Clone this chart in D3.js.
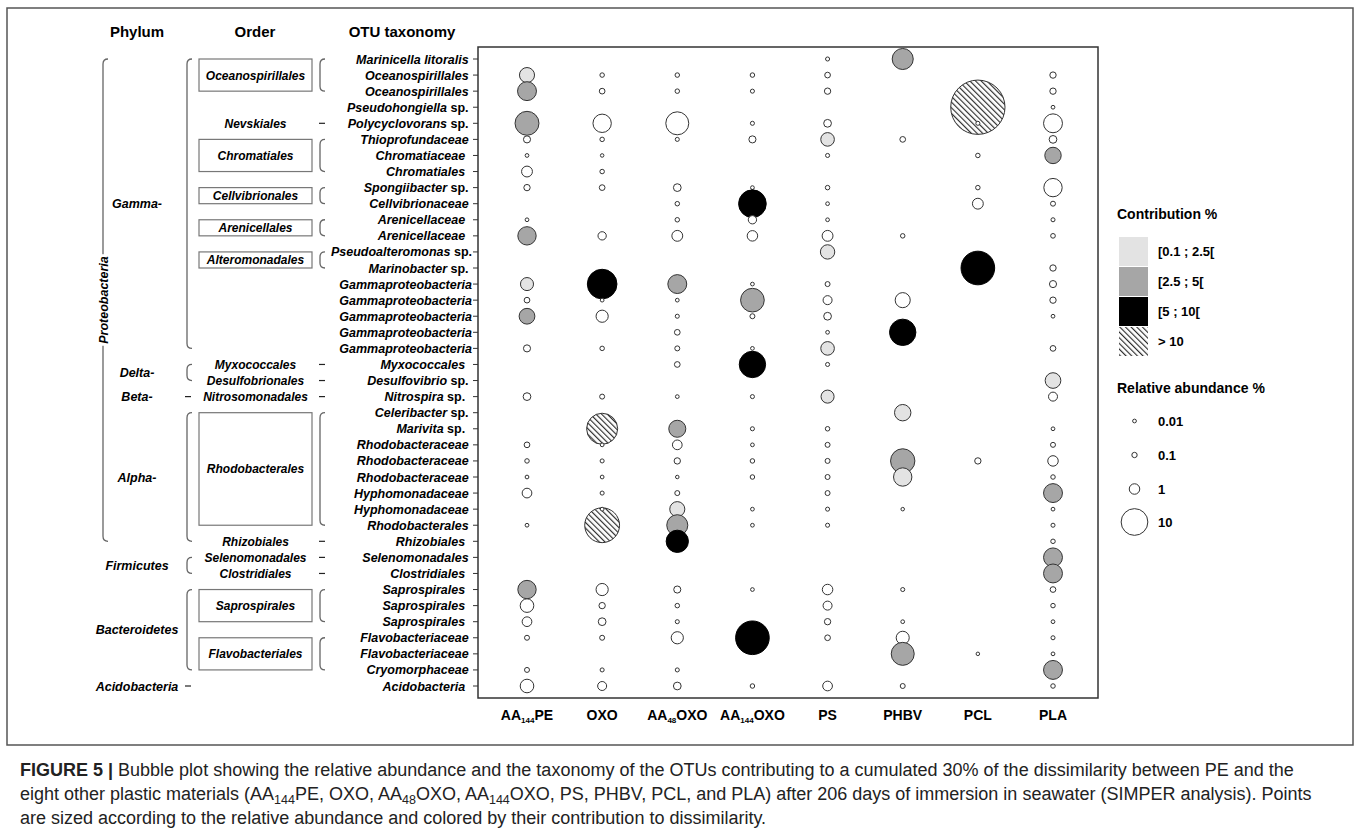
<!DOCTYPE html>
<html>
<head>
<meta charset="utf-8">
<script src="https://cdn.jsdelivr.net/npm/d3@7"></script>
<style>
body { margin: 0; background: #fff; }
svg text { font-family: "Liberation Sans", Arial, sans-serif; fill: #000; }
</style>
</head>
<body>
<div id="chart"></div>
<script>
//styles
var width = 1357, height = 835;
var plotLeft = 478, plotRight = 1098, plotTop = 47, plotBottom = 698;
var lineColor = "#666";
var fills = ["#ffffff", "#e3e3e3", "#a6a6a6", "#000000", "url(#hatch)"];

// data
var materials = ["AA144PE", "OXO", "AA48OXO", "AA144OXO", "PS", "PHBV", "PCL", "PLA"];

// trailing spaces kept as in the source table (they shift the labels a bit)
var otuLabels = ["Marinicella litoralis ", "Oceanospirillales ", "Oceanospirillales ", "Pseudohongiella sp. ",
  "Polycyclovorans sp. ", "Thioprofundaceae ", "Chromatiaceae  ", "Chromatiales  ", "Spongiibacter sp. ",
  "Cellvibrionaceae ", "Arenicellaceae  ", "Arenicellaceae  ", "Pseudoalteromonas sp.", "Marinobacter sp. ",
  "Gammaproteobacteria", "Gammaproteobacteria", "Gammaproteobacteria", "Gammaproteobacteria", "Gammaproteobacteria",
  "Myxococcales  ", "Desulfovibrio sp. ", "Nitrospira sp.  ", "Celeribacter sp. ", "Marivita sp.  ",
  "Rhodobacteraceae ", "Rhodobacteraceae ", "Rhodobacteraceae ", "Hyphomonadaceae ", "Hyphomonadaceae ",
  "Rhodobacterales ", "Rhizobiales  ", "Selenomonadales ", "Clostridiales  ", "Saprospirales  ",
  "Saprospirales  ", "Saprospirales  ", "Flavobacteriaceae ", "Flavobacteriaceae ", "Cryomorphaceae ",
  "Acidobacteria  "];

// relative abundance % (null = OTU absent), one array per material, rows as otuLabels
var abAA144PE = [null, 2.6, 4.5, null, 7.8, 0.3, 0.01, 1.1, 0.2, null,
  0.01, 4.2, null, null, 1.8, 0.13, 2.9, null, 0.3, null,
  null, 0.4, null, null, 0.13, 0.04, 0.01, 0.8, null, 0.01,
  null, null, null, 4.2, 2.0, 0.8, 0.07, null, 0.07, 2.0];
var abOXO = [null, 0.04, 0.13, null, 4.2, 0.04, 0.005, 0.04, 0.13, null,
  null, 0.5, null, null, 12.6, 0.01, 1.5, null, 0.04, null,
  null, 0.07, null, 14, 0.01, 0.02, 0.01, 0.02, 0.01, 18,
  null, null, null, 1.5, 0.2, 0.4, 0.07, null, 0.02, 0.64];
var abAA48OXO = [null, 0.04, 0.04, null, 7.1, 0.02, null, null, 0.4, 0.04,
  0.04, 1.1, null, null, 4.5, 0.01, 0.02, 0.13, 0.07, 0.13,
  null, 0.01, null, 3.5, 0.8, 0.2, 0.005, 0.07, 2.6, 5.8,
  6.6, null, null, 0.3, 0.04, 0.02, 1.5, null, 0.02, 0.4];
var abAA144OXO = [null, 0.04, 0.02, null, 0.02, 0.3, null, null, 0.01, 10.8,
  0.5, 1.0, null, null, 0.01, 7.6, 0.07, null, 0.01, 9.7,
  null, 0.02, null, 0.02, 0.01, 0.04, 0.04, null, 0.01, 0.01,
  null, null, null, 0.01, null, null, 16.7, null, null, 0.04];
var abPS = [0.02, 0.13, 0.2, null, 0.4, 2.0, 0.02, null, 0.04, 0.01,
  0.01, 1.1, 2.3, null, 0.07, 0.64, 0.4, 0.01, 2.0, 0.02,
  null, 1.8, null, 0.04, 0.07, 0.07, 0.07, 0.07, 0.02, 0.02,
  null, null, null, 1.0, 0.64, 0.2, 0.13, null, null, 0.8];
var abPHBV = [5.8, null, null, null, null, 0.13, null, null, null, null,
  null, 0.04, null, null, null, 2.6, null, 9.7, null, null,
  null, null, 3.2, null, null, 8.1, 4.2, null, 0.005, null,
  null, null, null, 0.02, null, 0.01, 1.8, 7.1, null, 0.07];
var abPCL = [null, null, null, 46.8, 0.02, null, 0.04, null, 0.04, 1.1,
  null, null, null, 16.7, null, null, null, null, null, null,
  null, null, null, null, null, 0.2, null, null, null, null,
  null, null, null, null, null, null, null, 0.005, null, null];
var abPLA = [null, 0.2, 0.2, 0.01, 4.5, 0.4, 3.2, null, 4.2, 0.07,
  0.02, 0.05, null, 0.2, 0.3, 0.2, 0.01, null, 0.13, null,
  2.85, 0.64, null, 0.01, 0.07, 1.0, 0.04, 4.5, 0.01, 0.02,
  0.04, 4.5, 4.5, 0.13, 0.04, 0.01, 0.02, 0.01, 4.5, 0.04];

// contribution class: 0 <0.1, 1 [0.1;2.5[, 2 [2.5;5[, 3 [5;10[, 4 >10
var ctAA144PE = [0,1,2,0,2,0,0,0,0,0, 0,2,0,0,1,0,2,0,0,0, 0,0,0,0,0,0,0,0,0,0, 0,0,0,2,0,0,0,0,0,0];
var ctOXO     = [0,0,0,0,0,0,0,0,0,0, 0,0,0,0,3,0,0,0,0,0, 0,0,0,4,0,0,0,0,0,4, 0,0,0,0,0,0,0,0,0,0];
var ctAA48OXO = [0,0,0,0,0,0,0,0,0,0, 0,0,0,0,2,0,0,0,0,0, 0,0,0,2,0,0,0,0,1,2, 3,0,0,0,0,0,0,0,0,0];
var ctAA144OXO= [0,0,0,0,0,0,0,0,0,3, 0,0,0,0,0,2,0,0,0,3, 0,0,0,0,0,0,0,0,0,0, 0,0,0,0,0,0,3,0,0,0];
var ctPS      = [0,0,0,0,0,1,0,0,0,0, 0,0,1,0,0,0,0,0,1,0, 0,1,0,0,0,0,0,0,0,0, 0,0,0,0,0,0,0,0,0,0];
var ctPHBV    = [2,0,0,0,0,0,0,0,0,0, 0,0,0,0,0,0,0,3,0,0, 0,0,1,0,0,2,1,0,0,0, 0,0,0,0,0,0,0,2,0,0];
var ctPCL     = [0,0,0,4,0,0,0,0,0,0, 0,0,0,3,0,0,0,0,0,0, 0,0,0,0,0,0,0,0,0,0, 0,0,0,0,0,0,0,0,0,0];
var ctPLA     = [0,0,0,0,0,0,2,0,0,0, 0,0,0,0,0,0,0,0,0,0, 1,0,0,0,0,0,0,2,0,0, 0,2,2,0,0,0,0,0,2,0];

var abundance = [abAA144PE, abOXO, abAA48OXO, abAA144OXO, abPS, abPHBV, abPCL, abPLA];
var contribution = [ctAA144PE, ctOXO, ctAA48OXO, ctAA144OXO, ctPS, ctPHBV, ctPCL, ctPLA];

var contribLabels = ["[0.1 ; 2.5[", "[2.5 ; 5[", "[5 ; 10[", "> 10"];
var sizeBreaks = [0.01, 0.1, 1, 10];

// phylum / class column: [label, first row, last row]
var classGroups = [["Gamma-", 0, 18], ["Delta-", 19, 20], ["Beta-", 21, 21], ["Alpha-", 22, 30],
  ["Firmicutes", 31, 32], ["Bacteroidetes", 33, 38], ["Acidobacteria", 39, 39]];
// order column
var orderGroups = [["Oceanospirillales", 0, 2], ["Nevskiales", 4, 4], ["Chromatiales", 5, 7],
  ["Cellvibrionales", 8, 9], ["Arenicellales", 10, 11], ["Alteromonadales", 12, 13],
  ["Myxococcales", 19, 19], ["Desulfobrionales", 20, 20], ["Nitrosomonadales", 21, 21],
  ["Rhodobacterales", 22, 29], ["Rhizobiales", 30, 30], ["Selenomonadales", 31, 31],
  ["Clostridiales", 32, 32], ["Saprospirales", 33, 35], ["Flavobacteriales", 36, 38]];

var captionLines = [
  [["FIGURE 5 | ", "b"], ["Bubble plot showing the relative abundance and the taxonomy of the OTUs contributing to a cumulated 30% of the dissimilarity between PE and the"]],
  [["eight other plastic materials (AA"], ["144", "s"], ["PE, OXO, AA"], ["48", "s"], ["OXO, AA"], ["144", "s"], ["OXO, PS, PHBV, PCL, and PLA) after 206 days of immersion in seawater (SIMPER analysis). Points"]],
  [["are sized according to the relative abundance and colored by their contribution to dissimilarity."]]
];

var svg = d3.select("#chart").append("svg")
  .attr("width", width)
  .attr("height", height);

var defs = svg.append("defs");
var hatch = defs.append("pattern")
  .attr("id", "hatch")
  .attr("patternUnits", "userSpaceOnUse")
  .attr("width", 4).attr("height", 4)
  .attr("patternTransform", "rotate(-45)");
hatch.append("rect").attr("width", 4).attr("height", 4).attr("fill", "#fff");
hatch.append("line").attr("x1", 0.6).attr("y1", 0).attr("x2", 0.6).attr("y2", 4)
  .attr("stroke", "#222").attr("stroke-width", 1.1);

// outer frame
svg.append("rect")
  .attr("x", 7).attr("y", 8)
  .attr("width", 1346).attr("height", 737)
  .attr("fill", "none")
  .attr("stroke", "#555")
  .attr("stroke-width", 1.5);

// scales
var x = d3.scalePoint().domain(materials).range([527, 1053]);
var y = d3.scalePoint().domain(d3.range(otuLabels.length)).range([59, 686]);
var r = d3.scaleSqrt().domain([0, 10]).range([1.5, 1.5 + 3.75 * Math.sqrt(10)]);

// column headers
[["Phylum", 137], ["Order", 255], ["OTU taxonomy", 402]].forEach(function(h) {
  svg.append("text")
    .attr("x", h[1]).attr("y", 37)
    .attr("text-anchor", "middle")
    .style("font-size", "15px").style("font-weight", "bold")
    .text(h[0]);
});

function bracket(bx, y0, y1, hook) {
  return "M" + (bx + hook) + "," + y0 + " Q" + bx + "," + y0 + " " + bx + "," + (y0 + hook) +
    " L" + bx + "," + (y1 - hook) + " Q" + bx + "," + y1 + " " + (bx + hook) + "," + y1;
}
function dash(g, cx, cy) {
  g.append("line")
    .attr("x1", cx - 3).attr("x2", cx + 3)
    .attr("y1", cy).attr("y2", cy)
    .attr("stroke", "#222").attr("stroke-width", 1.2);
}

var tax = svg.append("g");

// Proteobacteria bracket with the rotated label breaking it
tax.append("path")
  .attr("d", bracket(103, y(0), y(30), 5))
  .attr("fill", "none").attr("stroke", lineColor).attr("stroke-width", 1.3);
var protX = 103, protY = 300;
var prot = tax.append("text")
  .attr("transform", "translate(" + (protX + 4.5) + "," + protY + ") rotate(-90)")
  .attr("text-anchor", "middle")
  .style("font-size", "12.5px").style("font-weight", "bold").style("font-style", "italic")
  .text("Proteobacteria");
var pb = prot.node().getBBox();
tax.insert("rect", "text")
  .attr("x", protX - 4).attr("width", 8)
  .attr("y", protY - pb.width / 2 - 2).attr("height", pb.width + 4)
  .attr("fill", "#fff");

classGroups.forEach(function(c) {
  var y0 = y(c[1]), y1 = y(c[2]);
  tax.append("text")
    .attr("x", 137).attr("y", (y0 + y1) / 2 + 4.5)
    .attr("text-anchor", "middle")
    .style("font-size", "12.5px").style("font-weight", "bold").style("font-style", "italic")
    .text(c[0]);
  if (c[2] > c[1]) {
    tax.append("path").attr("d", bracket(187, y0, y1, 5))
      .attr("fill", "none").attr("stroke", lineColor).attr("stroke-width", 1.3);
  } else {
    dash(tax, 188, y0);
  }
});

orderGroups.forEach(function(o) {
  var y0 = y(o[1]), y1 = y(o[2]);
  if (o[2] > o[1]) {
    tax.append("rect")
      .attr("x", 199).attr("y", y0)
      .attr("width", 113).attr("height", y1 - y0)
      .attr("fill", "none").attr("stroke", "#777").attr("stroke-width", 1.2);
    tax.append("path").attr("d", bracket(320, y0, y1, 5))
      .attr("fill", "none").attr("stroke", lineColor).attr("stroke-width", 1.3);
  } else {
    dash(tax, 322, y0);
  }
  tax.append("text")
    .attr("x", 255.5).attr("y", (y0 + y1) / 2 + 4.5)
    .attr("text-anchor", "middle")
    .style("font-size", "12px").style("font-weight", "bold").style("font-style", "italic")
    .text(o[0]);
});

// OTU labels, genus in italic, "sp." upright
var labelG = svg.append("g");
otuLabels.forEach(function(lab, i) {
  var trail = lab.length - lab.replace(/\s+$/, "").length;
  var name = lab.trim();
  var t = labelG.append("text")
    .attr("x", 472 - trail * 3.4).attr("y", y(i) + 4.5)
    .attr("text-anchor", "end")
    .style("font-size", "12.5px").style("font-weight", "bold");
  var m = name.match(/^(.*) (sp\.)$/);
  if (m) {
    t.append("tspan").style("font-style", "italic").text(m[1]);
    t.append("tspan").text(" " + m[2]);
  } else {
    t.append("tspan").style("font-style", "italic").text(name);
  }
  labelG.append("line")
    .attr("x1", 473).attr("x2", plotLeft)
    .attr("y1", y(i)).attr("y2", y(i))
    .attr("stroke", "#333").attr("stroke-width", 1);
});

// plot box
svg.append("rect")
  .attr("x", plotLeft).attr("y", plotTop)
  .attr("width", plotRight - plotLeft).attr("height", plotBottom - plotTop)
  .attr("fill", "none").attr("stroke", "#333").attr("stroke-width", 1.5);

// x labels with subscripts
materials.forEach(function(m) {
  var t = svg.append("text")
    .attr("x", x(m)).attr("y", 720)
    .attr("text-anchor", "middle")
    .style("font-size", "14px").style("font-weight", "bold");
  var p = m.match(/^(AA)(\d+)(.*)$/);
  if (p) {
    t.append("tspan").text(p[1]);
    t.append("tspan").attr("dy", 3).style("font-size", "8px").text(p[2]);
    t.append("tspan").attr("dy", -3).text(p[3]);
  } else {
    t.text(m);
  }
});

// bubbles
var bubbles = [];
otuLabels.forEach(function(lab, i) {
  materials.forEach(function(m, j) {
    if (abundance[j][i] != null) {
      bubbles.push({ row: i, mat: m, ab: abundance[j][i], ct: contribution[j][i] });
    }
  });
});
// hatched ones go underneath so the tiny circles stay visible
bubbles.sort(function(a, b) { return (b.ct == 4) - (a.ct == 4); });

svg.append("g").selectAll("circle")
  .data(bubbles)
  .enter().append("circle")
  .attr("cx", function(d) { return x(d.mat); })
  .attr("cy", function(d) { return y(d.row); })
  .attr("r", function(d) { return r(d.ab); })
  .attr("fill", function(d) { return fills[d.ct]; })
  .attr("stroke", function(d) { return d.ct == 3 ? "#000" : "#333"; })
  .attr("stroke-width", 1);

// legend
var leg = svg.append("g");
leg.append("text")
  .attr("x", 1117).attr("y", 219)
  .style("font-size", "14px").style("font-weight", "bold")
  .text("Contribution %");

leg.selectAll(".ckey").data(contribLabels).enter().append("rect")
  .attr("class", "ckey")
  .attr("x", 1119).attr("y", function(d, i) { return 237 + i * 30; })
  .attr("width", 29).attr("height", 29)
  .attr("fill", function(d, i) { return fills[i + 1]; });

leg.selectAll(".clab").data(contribLabels).enter().append("text")
  .attr("class", "clab")
  .attr("x", 1158).attr("y", function(d, i) { return 256 + i * 30; })
  .style("font-size", "13px").style("font-weight", "bold")
  .text(function(d) { return d; });

leg.append("text")
  .attr("x", 1117).attr("y", 393)
  .style("font-size", "14px").style("font-weight", "bold")
  .text("Relative abundance %");

var sizeY = [421, 455, 489, 522];
leg.selectAll(".skey").data(sizeBreaks).enter().append("circle")
  .attr("class", "skey")
  .attr("cx", 1134.5).attr("cy", function(d, i) { return sizeY[i]; })
  .attr("r", function(d) { return r(d); })
  .attr("fill", "#fff").attr("stroke", "#333");

leg.selectAll(".slab").data(sizeBreaks).enter().append("text")
  .attr("class", "slab")
  .attr("x", 1158).attr("y", function(d, i) { return sizeY[i] + 5; })
  .style("font-size", "13px").style("font-weight", "bold")
  .text(function(d) { return d; });

// caption
captionLines.forEach(function(line, li) {
  var t = svg.append("text")
    .attr("x", 20).attr("y", 776 + li * 24)
    .style("font-size", "18px")
    .style("fill", "#222");
  line.forEach(function(seg) {
    var ts = t.append("tspan").text(seg[0]);
    if (seg[1] == "b") ts.style("font-weight", "bold");
    if (seg[1] == "s") ts.attr("dy", 4).style("font-size", "12.5px");
    else if (t.attr("data-sub") == "1") ts.attr("dy", -4);
    t.attr("data-sub", seg[1] == "s" ? "1" : "0");
  });
});
</script>
</body>
</html>
